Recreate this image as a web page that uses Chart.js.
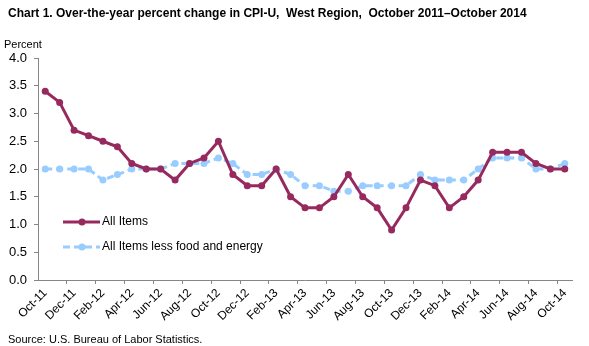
<!DOCTYPE html>
<html>
<head>
<meta charset="utf-8">
<script src="https://cdn.jsdelivr.net/npm/chart.js@4"></script>
<style>
  body { margin: 0; background: #fff; }
  #wrap { position: relative; width: 589px; height: 346px; font-family: 'Liberation Sans', Arial, sans-serif; color: #000; }
  #chart { position: absolute; left: 0; top: 0; }
  .title { position: absolute; left: 8px; top: 6px; font-size: 12px; font-weight: bold; white-space: nowrap; }
  .unit { position: absolute; left: 4px; top: 38px; font-size: 11px; }
  .source { position: absolute; left: 8px; top: 333px; font-size: 11px; }
</style>
</head>
<body>
<div id="wrap">
  <canvas id="chart" width="589" height="346"></canvas>
  <div class="title">Chart 1. Over-the-year percent change in CPI-U,&nbsp; West Region,&nbsp; October 2011&ndash;October 2014</div>
  <div class="unit">Percent</div>
  <div class="source">Source: U.S. Bureau of Labor Statistics.</div>
</div>
<script>
// Months, October 2011 through October 2014
const months = [
  'Oct-11', 'Nov-11', 'Dec-11', 'Jan-12', 'Feb-12', 'Mar-12', 'Apr-12', 'May-12', 'Jun-12',
  'Jul-12', 'Aug-12', 'Sep-12', 'Oct-12', 'Nov-12', 'Dec-12', 'Jan-13', 'Feb-13', 'Mar-13',
  'Apr-13', 'May-13', 'Jun-13', 'Jul-13', 'Aug-13', 'Sep-13', 'Oct-13', 'Nov-13', 'Dec-13',
  'Jan-14', 'Feb-14', 'Mar-14', 'Apr-14', 'May-14', 'Jun-14', 'Jul-14', 'Aug-14', 'Sep-14', 'Oct-14'
];

// Over-the-year percent change, all items
const allItems = [
  3.4, 3.2, 2.7, 2.6, 2.5, 2.4, 2.1, 2.0, 2.0,
  1.8, 2.1, 2.2, 2.5, 1.9, 1.7, 1.7, 2.0, 1.5,
  1.3, 1.3, 1.5, 1.9, 1.5, 1.3, 0.9, 1.3, 1.8,
  1.7, 1.3, 1.5, 1.8, 2.3, 2.3, 2.3, 2.1, 2.0, 2.0
];

// Over-the-year percent change, all items less food and energy
const coreItems = [
  2.0, 2.0, 2.0, 2.0, 1.8, 1.9, 2.0, 2.0, 2.0,
  2.1, 2.1, 2.1, 2.2, 2.1, 1.9, 1.9, 2.0, 1.9,
  1.7, 1.7, 1.6, 1.6, 1.7, 1.7, 1.7, 1.7, 1.9,
  1.8, 1.8, 1.8, 2.0, 2.2, 2.2, 2.2, 2.0, 2.0, 2.1
];

const yTicks = [0, 0.5, 1, 1.5, 2, 2.5, 3, 3.5, 4];

const seriesNames = ['All Items', 'All Items less food and energy'];

const maroon = '#962a5e';
const lightBlue = '#99ccff';
const axisGray = '#868686';
const fontFamily = "'Liberation Sans', Arial, sans-serif";

// Legend drawn inside the plot area, below the lines
const insideLegend = {
  id: 'insideLegend',
  afterDatasetsDraw(chart) {
    const ctx = chart.ctx;
    const rows = [
      { y: 222, ds: chart.data.datasets[0] },
      { y: 247, ds: chart.data.datasets[1] }
    ];
    ctx.save();
    rows.forEach(function(row) {
      const ds = row.ds;
      ctx.strokeStyle = ds.borderColor;
      ctx.lineWidth = ds.borderWidth;
      ctx.setLineDash(ds.borderDash || []);
      ctx.beginPath();
      ctx.moveTo(63, row.y);
      ctx.lineTo(100, row.y);
      ctx.stroke();
      ctx.setLineDash([]);
      ctx.fillStyle = ds.pointBackgroundColor;
      ctx.beginPath();
      ctx.arc(82, row.y, ds.pointRadius, 0, Math.PI * 2);
      ctx.fill();
      ctx.fillStyle = '#000';
      ctx.font = '12px ' + fontFamily;
      ctx.textBaseline = 'middle';
      ctx.textAlign = 'left';
      ctx.fillText(ds.label, 102, row.y);
    });
    ctx.restore();
  }
};

new Chart(document.getElementById('chart'), {
  type: 'line',
  data: {
    labels: months,
    datasets: [
      {
        label: seriesNames[0],
        data: allItems,
        borderColor: maroon,
        backgroundColor: maroon,
        borderWidth: 3,
        pointRadius: 3.5,
        pointBackgroundColor: maroon,
        pointBorderWidth: 0,
        tension: 0,
        order: 1
      },
      {
        label: seriesNames[1],
        data: coreItems,
        borderColor: lightBlue,
        backgroundColor: lightBlue,
        borderWidth: 3,
        borderDash: [7, 4],
        pointRadius: 3.5,
        pointBackgroundColor: lightBlue,
        pointBorderWidth: 0,
        tension: 0,
        order: 2
      }
    ]
  },
  options: {
    responsive: false,
    animation: false,
    layout: {
      padding: { top: 58, right: 17, bottom: 0, left: 0 }
    },
    plugins: {
      legend: { display: false },
      title: { display: false },
      tooltip: { enabled: false }
    },
    scales: {
      x: {
        type: 'category',
        offset: true,
        afterFit: function(scale) { scale.height = 66; },
        border: { display: true, color: axisGray, width: 1 },
        grid: {
          display: true,
          offset: true,
          drawOnChartArea: false,
          drawTicks: true,
          tickLength: 4,
          color: function(c) {
            return (c.index > 0 && c.index % 2 === 0) ? axisGray : 'rgba(0,0,0,0)';
          },
          tickColor: function(c) {
            return (c.index > 0 && c.index % 2 === 0) ? axisGray : 'rgba(0,0,0,0)';
          }
        },
        ticks: {
          autoSkip: false,
          minRotation: 45,
          maxRotation: 45,
          padding: 2,
          color: '#000',
          font: { family: fontFamily, size: 12 },
          callback: function(value, index) {
            return index % 2 === 0 ? months[index] : '';
          }
        }
      },
      y: {
        min: yTicks[0],
        max: yTicks[yTicks.length - 1],
        afterFit: function(scale) { scale.width = 38; },
        afterBuildTicks: function(scale) {
          scale.ticks = yTicks.map(function(v) { return { value: v }; });
        },
        border: { display: true, color: axisGray, width: 1 },
        grid: {
          display: true,
          drawOnChartArea: false,
          drawTicks: true,
          tickLength: 4,
          color: axisGray,
          tickColor: axisGray
        },
        ticks: {
          padding: 7,
          color: '#000',
          font: { family: fontFamily, size: 13 },
          callback: function(value) { return Number(value).toFixed(1); }
        }
      }
    }
  },
  plugins: [insideLegend]
});
</script>
</body>
</html>
